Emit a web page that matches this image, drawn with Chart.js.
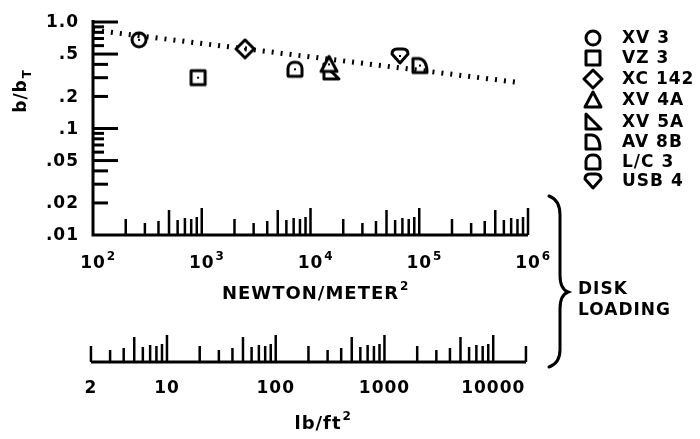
<!DOCTYPE html>
<html>
<head>
<meta charset="utf-8">
<script src="https://cdn.jsdelivr.net/npm/chart.js@4"></script>
<style>
  html, body { margin: 0; padding: 0; background: #fff; }
  #wrap { position: relative; width: 700px; height: 439px; }
</style>
</head>
<body>
<div id="wrap"><canvas id="chart" width="700" height="439"></canvas></div>
<script>
// aircraft, disk loading (N/m^2) and span ratio b/bT
const categories = ['XV 3', 'VZ 3', 'XC 142', 'XV 4A', 'XV 5A', 'AV 8B', 'L/C 3', 'USB 4'];
const shapes = ['circle', 'square', 'diamond', 'triangle', 'rtriangle', 'dee', 'dome', 'shield'];
const loadingNm = [265, 925, 2500, 14800, 15400, 101600, 7200, 66500];
const spanRatio = [0.68, 0.30, 0.56, 0.40, 0.34, 0.39, 0.36, 0.48];

// dotted trend line
const trendX = [100, 830000];
const trendY = [0.84, 0.27];

// axis labels
const yTicks = [1, 0.5, 0.2, 0.1, 0.05, 0.02, 0.01];
const yTickLabels = ['1.0', '.5', '.2', '.1', '.05', '.02', '.01'];
const xExponents = [2, 3, 4, 5, 6];
const lbTicks = [2, 10, 100, 1000, 10000];
const NM_PER_LBFT2 = 47.88;

const FONT = '"DejaVu Sans", "Liberation Sans", sans-serif';

function makeMarker(shape, dot) {
    const c = document.createElement('canvas');
    c.width = 22; c.height = 22;
    const ctx = c.getContext('2d');
    ctx.translate(11, 11);
    ctx.lineWidth = 3;
    ctx.strokeStyle = '#000';
    ctx.fillStyle = '#fff';
    ctx.lineJoin = 'round';
    ctx.beginPath();
    if (shape === 'circle') {
        ctx.arc(0, 0, 7, 0, Math.PI * 2);
    } else if (shape === 'square') {
        ctx.rect(-7, -7, 14, 14);
    } else if (shape === 'diamond') {
        ctx.moveTo(0, -9); ctx.lineTo(9, 0); ctx.lineTo(0, 9); ctx.lineTo(-9, 0); ctx.closePath();
    } else if (shape === 'triangle') {
        ctx.moveTo(0, -8); ctx.lineTo(8, 7); ctx.lineTo(-8, 7); ctx.closePath();
    } else if (shape === 'rtriangle') {
        ctx.moveTo(-7, -8); ctx.lineTo(8, 7); ctx.lineTo(-7, 7); ctx.closePath();
    } else if (shape === 'dee') {
        ctx.moveTo(-7, -7); ctx.lineTo(-1, -7);
        ctx.quadraticCurveTo(7, -6, 7, 7);
        ctx.lineTo(-7, 7); ctx.closePath();
    } else if (shape === 'dome') {
        ctx.roundRect(-7, -7, 14, 14, [6, 6, 1, 1]);
    } else if (shape === 'shield') {
        ctx.moveTo(0, 7); ctx.lineTo(-8, -2);
        ctx.quadraticCurveTo(-8, -7, -3, -7);
        ctx.lineTo(3, -7);
        ctx.quadraticCurveTo(8, -7, 8, -2);
        ctx.closePath();
    }
    ctx.fill();
    ctx.stroke();
    if (dot) {
        ctx.fillStyle = '#000';
        ctx.fillRect(-1, -1, 2, 2);
    }
    return c;
}

const plotMarkers = shapes.map(s => makeMarker(s, true));
const legendMarkers = shapes.map(s => makeMarker(s, false));

function tickLen(m, lens) {
    return lens[m] || lens.other;
}

function supText(ctx, base, sup, x, y, size) {
    ctx.font = 'bold ' + size + 'px ' + FONT;
    const w = ctx.measureText(base).width;
    ctx.textAlign = 'center';
    ctx.fillText(base, x, y);
    ctx.textAlign = 'left';
    ctx.font = 'bold ' + Math.round(size * 0.7) + 'px ' + FONT;
    ctx.fillText(sup, x + w / 2 + 1, y - 7);
}

const decor = {
    id: 'decor',
    afterDraw(chart) {
        const ctx = chart.ctx;
        const xs = chart.scales.x, ys = chart.scales.y;
        const left = xs.left, right = xs.right, top = ys.top, bottom = ys.bottom;
        ctx.save();
        ctx.fillStyle = '#000';
        ctx.strokeStyle = '#000';
        ctx.letterSpacing = '1px';

        // axis lines
        ctx.lineWidth = 3;
        ctx.beginPath();
        ctx.moveTo(left, top - 2); ctx.lineTo(left, bottom); ctx.lineTo(right, bottom);
        ctx.stroke();

        // y inner ticks
        ctx.lineWidth = 3;
        for (let k = -2; k < 0; k++) {
            for (let m = 1; m <= 9; m++) {
                const v = m * Math.pow(10, k);
                if (v <= 0.0101) continue;
                const py = ys.getPixelForValue(v);
                const len = tickLen(m, { 1: 25, 5: 25, 2: 15, 3: 15, 4: 15, other: 11 });
                ctx.beginPath(); ctx.moveTo(left, py); ctx.lineTo(left + len, py); ctx.stroke();
            }
        }
        const py1 = ys.getPixelForValue(1);
        ctx.beginPath(); ctx.moveTo(left, py1); ctx.lineTo(left + 25, py1); ctx.stroke();

        // x ticks pointing up
        const xLens = { 1: 27, 2: 16, 3: 12, 4: 14, 5: 25, 6: 15, 7: 17, 8: 16, 9: 18, other: 15 };
        ctx.lineWidth = 2.5;
        for (let k = 2; k <= 6; k++) {
            for (let m = 1; m <= 9; m++) {
                const v = m * Math.pow(10, k);
                if (v <= 100 || v > 1e6) continue;
                const px = xs.getPixelForValue(v);
                const len = tickLen(m, xLens);
                ctx.beginPath(); ctx.moveTo(px, bottom); ctx.lineTo(px, bottom - len); ctx.stroke();
            }
        }

        // y tick labels
        ctx.font = 'bold 17px ' + FONT;
        ctx.textAlign = 'right';
        ctx.textBaseline = 'middle';
        yTicks.forEach((v, i) => {
            ctx.fillText(yTickLabels[i], left - 14, ys.getPixelForValue(v) + 1);
        });

        // x tick labels (N/m^2)
        xExponents.forEach(e => {
            supText(ctx, '10', String(e), xs.getPixelForValue(Math.pow(10, e)), 264, 17);
        });

        // x title
        ctx.font = 'bold 18px ' + FONT;
        ctx.textAlign = 'left';
        const tw = ctx.measureText('NEWTON/METER').width;
        ctx.fillText('NEWTON/METER', 222, 294);
        ctx.font = 'bold 12px ' + FONT;
        ctx.fillText('2', 222 + tw + 1, 287);

        // second axis in lb/ft^2
        const lbY = 362;
        const lbMin = xs.getPixelForValue(2 * NM_PER_LBFT2);
        const lbMax = xs.getPixelForValue(20000 * NM_PER_LBFT2);
        ctx.lineWidth = 3;
        ctx.beginPath(); ctx.moveTo(lbMin, lbY); ctx.lineTo(lbMax, lbY); ctx.stroke();
        ctx.lineWidth = 2.5;
        for (let k = 0; k <= 4; k++) {
            for (let m = 1; m <= 9; m++) {
                const v = m * Math.pow(10, k);
                if (v < 2 || v > 20000) continue;
                const px = xs.getPixelForValue(v * NM_PER_LBFT2);
                const len = tickLen(m, xLens);
                ctx.beginPath(); ctx.moveTo(px, lbY); ctx.lineTo(px, lbY - len); ctx.stroke();
            }
        }
        ctx.font = 'bold 17px ' + FONT;
        ctx.textAlign = 'center';
        lbTicks.forEach(v => {
            ctx.fillText(String(v), xs.getPixelForValue(v * NM_PER_LBFT2), 389);
        });
        ctx.font = 'bold 18px ' + FONT;
        const lw = ctx.measureText('lb/ft').width;
        ctx.textAlign = 'left';
        ctx.fillText('lb/ft', 322 - lw / 2 - 4, 424);
        ctx.font = 'bold 12px ' + FONT;
        ctx.fillText('2', 322 + lw / 2 - 3, 417);

        // y title b/bT, rotated
        ctx.save();
        ctx.translate(22, 92);
        ctx.rotate(-Math.PI / 2);
        ctx.font = 'bold 17px ' + FONT;
        const bw = ctx.measureText('b/b').width;
        ctx.textAlign = 'left';
        ctx.fillText('b/b', -bw / 2 - 4, 0);
        ctx.font = 'bold 12px ' + FONT;
        ctx.fillText('T', bw / 2 - 3, 6);
        ctx.restore();

        // legend
        ctx.font = 'bold 17px ' + FONT;
        ctx.textAlign = 'left';
        const rows = [38, 58, 79, 100, 122, 142, 162, 181];
        categories.forEach((name, i) => {
            ctx.drawImage(legendMarkers[i], 593 - 11, rows[i] - 11);
            ctx.fillText(name, 622, rows[i] + 1);
        });

        // brace
        ctx.lineWidth = 3;
        ctx.lineCap = 'round';
        ctx.beginPath();
        ctx.moveTo(549, 196);
        ctx.quadraticCurveTo(560, 200, 560, 215);
        ctx.lineTo(560, 275);
        ctx.quadraticCurveTo(560, 289, 568, 292);
        ctx.quadraticCurveTo(560, 295, 560, 309);
        ctx.lineTo(560, 350);
        ctx.quadraticCurveTo(560, 363, 549, 367);
        ctx.stroke();

        ctx.font = 'bold 17px ' + FONT;
        ctx.fillText('DISK', 578, 290);
        ctx.fillText('LOADING', 578, 311);

        ctx.restore();
    }
};

const datasets = [{
    data: trendX.map((x, i) => ({ x: x, y: trendY[i] })),
    showLine: true,
    borderColor: '#000',
    borderWidth: 5,
    borderDash: [2, 7],
    pointRadius: 0,
    fill: false
}];
categories.forEach((name, i) => {
    datasets.push({
        label: name,
        data: [{ x: loadingNm[i], y: spanRatio[i] }],
        pointStyle: plotMarkers[i],
        pointRadius: 10,
        showLine: false
    });
});

new Chart(document.getElementById('chart'), {
    type: 'scatter',
    data: { datasets: datasets },
    options: {
        responsive: false,
        animation: false,
        layout: { padding: { left: 93, right: 172, top: 22, bottom: 204 } },
        scales: {
            x: { type: 'logarithmic', min: 100, max: 1e6, display: false },
            y: { type: 'logarithmic', min: 0.01, max: 1, display: false }
        },
        plugins: {
            legend: { display: false },
            tooltip: { enabled: false }
        }
    },
    plugins: [decor]
});
</script>
</body>
</html>
